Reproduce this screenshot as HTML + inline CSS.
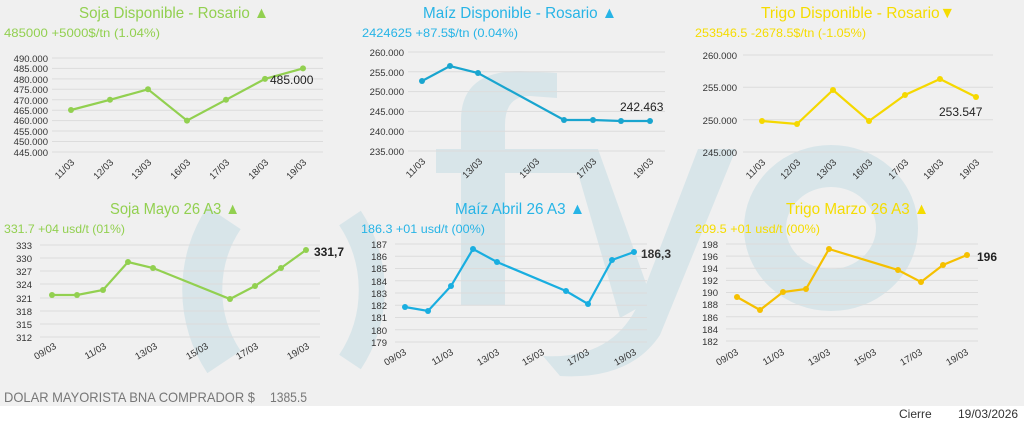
<!DOCTYPE html>
<html><head><meta charset="utf-8"><style>
html,body{margin:0;padding:0;background:#fff}
svg{display:block}
text{font-family:"Liberation Sans",sans-serif}
</style></head><body>
<svg width="1024" height="425" viewBox="0 0 1024 425" xmlns="http://www.w3.org/2000/svg">
<rect x="0" y="0" width="1024" height="406" fill="#f0f0f0"/>
<!-- watermark -->
<g fill="none" stroke="#d8e5e9">
<path d="M224,218 A130,130 0 0 0 224,362" stroke-width="40"/>
<path d="M350,218 A130,130 0 0 1 350,362" stroke-width="26"/>
<ellipse cx="831" cy="228" rx="66" ry="62" stroke-width="42"/>
</g>
<g fill="#d8e5e9">
<path d="M461,305 L461,120 Q461,71 520,71 L557,73 L557,98 L530,96 Q505,96 505,125 L505,305 Z"/>
<rect x="436" y="149" width="162" height="24"/>
<path d="M571,149 L598,149 L652,300 L620,318 Z"/>
<path d="M698,149 L736,149 L660,335 Q630,380 560,376 L543,356 Q615,360 640,300 Z"/>
</g>
<g font-size="10" fill="#333">
<!-- Chart 1 -->
<text x="79" y="18" font-size="16" fill="#92d050" textLength="190" lengthAdjust="spacingAndGlyphs">Soja Disponible - Rosario ▲</text>
<text x="4" y="37" font-size="12" fill="#92d050" textLength="156" lengthAdjust="spacingAndGlyphs">485000 +5000$/tn (1.04%)</text>
<g stroke="#dcdcdc" stroke-width="1">
<line x1="52" x2="323" y1="58" y2="58"/><line x1="52" x2="323" y1="68.4" y2="68.4"/><line x1="52" x2="323" y1="78.9" y2="78.9"/><line x1="52" x2="323" y1="89.3" y2="89.3"/><line x1="52" x2="323" y1="99.8" y2="99.8"/><line x1="52" x2="323" y1="110.2" y2="110.2"/><line x1="52" x2="323" y1="120.6" y2="120.6"/><line x1="52" x2="323" y1="131" y2="131"/><line x1="52" x2="323" y1="141.5" y2="141.5"/><line x1="52" x2="323" y1="152" y2="152"/>
</g>
<g text-anchor="end" font-size="9.5"><text x="48" y="62">490.000</text><text x="48" y="72">485.000</text><text x="48" y="83">480.000</text><text x="48" y="93">475.000</text><text x="48" y="104">470.000</text><text x="48" y="114">465.000</text><text x="48" y="124">460.000</text><text x="48" y="135">455.000</text><text x="48" y="145">450.000</text><text x="48" y="156">445.000</text></g>
<polyline fill="none" stroke="#92d050" stroke-width="2.2" points="71,110 110,99.8 148,89.3 187,120.6 226,99.8 265,78.9 303,68.4"/>
<g fill="#92d050"><circle cx="71" cy="110" r="3"/><circle cx="110" cy="99.8" r="3"/><circle cx="148" cy="89.3" r="3"/><circle cx="187" cy="120.6" r="3"/><circle cx="226" cy="99.8" r="3"/><circle cx="265" cy="78.9" r="3"/><circle cx="303" cy="68.4" r="3"/></g>
<text x="270" y="84" font-size="12" fill="#222">485.000</text>
<g font-size="9.5" text-anchor="end"><text transform="translate(75,163) rotate(-45)">11/03</text><text transform="translate(114,163) rotate(-45)">12/03</text><text transform="translate(152,163) rotate(-45)">13/03</text><text transform="translate(191,163) rotate(-45)">16/03</text><text transform="translate(230,163) rotate(-45)">17/03</text><text transform="translate(269,163) rotate(-45)">18/03</text><text transform="translate(307,163) rotate(-45)">19/03</text></g>

<!-- Chart 2 -->
<text x="423" y="18" font-size="16" fill="#27b4e6" textLength="194" lengthAdjust="spacingAndGlyphs">Maíz Disponible - Rosario ▲</text>
<text x="362" y="37" font-size="12" fill="#27b4e6" textLength="156" lengthAdjust="spacingAndGlyphs">2424625 +87.5$/tn (0.04%)</text>
<g stroke="#dcdcdc"><line x1="408" x2="665" y1="52" y2="52"/><line x1="408" x2="665" y1="71.8" y2="71.8"/><line x1="408" x2="665" y1="91.6" y2="91.6"/><line x1="408" x2="665" y1="111.4" y2="111.4"/><line x1="408" x2="665" y1="131.2" y2="131.2"/><line x1="408" x2="665" y1="151" y2="151"/></g>
<g text-anchor="end" font-size="9.5"><text x="404" y="56">260.000</text><text x="404" y="76">255.000</text><text x="404" y="95">250.000</text><text x="404" y="115">245.000</text><text x="404" y="135">240.000</text><text x="404" y="155">235.000</text></g>
<polyline fill="none" stroke="#19a5cf" stroke-width="2.2" points="422,81 450,66 478,73 564,120 593,120 621,121 650,121"/>
<g fill="#19a5cf"><circle cx="422" cy="81" r="3"/><circle cx="450" cy="66" r="3"/><circle cx="478" cy="73" r="3"/><circle cx="564" cy="120" r="3"/><circle cx="593" cy="120" r="3"/><circle cx="621" cy="121" r="3"/><circle cx="650" cy="121" r="3"/></g>
<text x="620" y="111" font-size="12" fill="#222">242.463</text>
<g font-size="9.5" text-anchor="end"><text transform="translate(426,162) rotate(-45)">11/03</text><text transform="translate(483,162) rotate(-45)">13/03</text><text transform="translate(540,162) rotate(-45)">15/03</text><text transform="translate(597,162) rotate(-45)">17/03</text><text transform="translate(654,162) rotate(-45)">19/03</text></g>

<!-- Chart 3 -->
<text x="761" y="18" font-size="16" fill="#f5dc00" textLength="194" lengthAdjust="spacingAndGlyphs">Trigo Disponible - Rosario▼</text>
<text x="695" y="37" font-size="12" fill="#f5dc00" textLength="171" lengthAdjust="spacingAndGlyphs">253546.5 -2678.5$/tn (-1.05%)</text>
<g stroke="#dcdcdc"><line x1="743" x2="993" y1="55" y2="55"/><line x1="743" x2="993" y1="87.3" y2="87.3"/><line x1="743" x2="993" y1="119.7" y2="119.7"/><line x1="743" x2="993" y1="152" y2="152"/></g>
<g text-anchor="end" font-size="9.5"><text x="737" y="59">260.000</text><text x="737" y="91">255.000</text><text x="737" y="124">250.000</text><text x="737" y="156">245.000</text></g>
<polyline fill="none" stroke="#f5d800" stroke-width="2.2" points="762,121 797,124 833,90 869,121 905,95 940,79 976,97"/>
<g fill="#f5d800"><circle cx="762" cy="121" r="3"/><circle cx="797" cy="124" r="3"/><circle cx="833" cy="90" r="3"/><circle cx="869" cy="121" r="3"/><circle cx="905" cy="95" r="3"/><circle cx="940" cy="79" r="3"/><circle cx="976" cy="97" r="3"/></g>
<text x="939" y="116" font-size="12" fill="#222">253.547</text>
<g font-size="9.5" text-anchor="end"><text transform="translate(766,163) rotate(-45)">11/03</text><text transform="translate(801,163) rotate(-45)">12/03</text><text transform="translate(837,163) rotate(-45)">13/03</text><text transform="translate(873,163) rotate(-45)">16/03</text><text transform="translate(909,163) rotate(-45)">17/03</text><text transform="translate(944,163) rotate(-45)">18/03</text><text transform="translate(980,163) rotate(-45)">19/03</text></g>

<!-- Chart 4 -->
<text x="110" y="214" font-size="16" fill="#92d050" textLength="130" lengthAdjust="spacingAndGlyphs">Soja Mayo 26 A3 ▲</text>
<text x="4" y="233" font-size="12" fill="#92d050" textLength="121" lengthAdjust="spacingAndGlyphs">331.7 +04 usd/t (01%)</text>
<g stroke="#dcdcdc"><line x1="40" x2="320" y1="245" y2="245"/><line x1="40" x2="320" y1="258" y2="258"/><line x1="40" x2="320" y1="271" y2="271"/><line x1="40" x2="320" y1="284" y2="284"/><line x1="40" x2="320" y1="298" y2="298"/><line x1="40" x2="320" y1="311" y2="311"/><line x1="40" x2="320" y1="324" y2="324"/><line x1="40" x2="320" y1="337" y2="337"/></g>
<g text-anchor="end" font-size="9.5"><text x="32" y="249">333</text><text x="32" y="262">330</text><text x="32" y="275">327</text><text x="32" y="288">324</text><text x="32" y="302">321</text><text x="32" y="315">318</text><text x="32" y="328">315</text><text x="32" y="341">312</text></g>
<polyline fill="none" stroke="#92d050" stroke-width="2.2" points="52,295 77,295 103,290 128,262 153,268 230,299 255,286 281,268 306,250"/>
<g fill="#92d050"><circle cx="52" cy="295" r="3"/><circle cx="77" cy="295" r="3"/><circle cx="103" cy="290" r="3"/><circle cx="128" cy="262" r="3"/><circle cx="153" cy="268" r="3"/><circle cx="230" cy="299" r="3"/><circle cx="255" cy="286" r="3"/><circle cx="281" cy="268" r="3"/><circle cx="306" cy="250" r="3"/></g>
<text x="314" y="256" font-size="12" font-weight="bold" fill="#222">331,7</text>
<g font-size="9.5" text-anchor="end"><text transform="translate(57,348) rotate(-30)">09/03</text><text transform="translate(107,348) rotate(-30)">11/03</text><text transform="translate(158,348) rotate(-30)">13/03</text><text transform="translate(209,348) rotate(-30)">15/03</text><text transform="translate(259,348) rotate(-30)">17/03</text><text transform="translate(310,348) rotate(-30)">19/03</text></g>
<text x="4" y="402" font-size="14" fill="#777" textLength="251" lengthAdjust="spacingAndGlyphs">DOLAR MAYORISTA BNA COMPRADOR  $</text>
<text x="270" y="402" font-size="14" fill="#777" textLength="37" lengthAdjust="spacingAndGlyphs">1385.5</text>

<!-- Chart 5 -->
<text x="455" y="214" font-size="16" fill="#27b4e6" textLength="130" lengthAdjust="spacingAndGlyphs">Maíz Abril 26 A3 ▲</text>
<text x="361" y="233" font-size="12" fill="#27b4e6" textLength="124" lengthAdjust="spacingAndGlyphs">186.3 +01 usd/t (00%)</text>
<g stroke="#dcdcdc"><line x1="395" x2="647" y1="244" y2="244"/><line x1="395" x2="647" y1="256.3" y2="256.3"/><line x1="395" x2="647" y1="268.5" y2="268.5"/><line x1="395" x2="647" y1="280.8" y2="280.8"/><line x1="395" x2="647" y1="293" y2="293"/><line x1="395" x2="647" y1="305.3" y2="305.3"/><line x1="395" x2="647" y1="317.5" y2="317.5"/><line x1="395" x2="647" y1="329.8" y2="329.8"/><line x1="395" x2="647" y1="342" y2="342"/></g>
<g text-anchor="end" font-size="9.5"><text x="387" y="248">187</text><text x="387" y="260">186</text><text x="387" y="272">185</text><text x="387" y="285">184</text><text x="387" y="297">183</text><text x="387" y="309">182</text><text x="387" y="321">181</text><text x="387" y="334">180</text><text x="387" y="346">179</text></g>
<polyline fill="none" stroke="#19aee0" stroke-width="2.2" points="405,307 428,311 451,286 473,249 497,262 566,291 588,304 612,260 634,252"/>
<g fill="#19aee0"><circle cx="405" cy="307" r="3"/><circle cx="428" cy="311" r="3"/><circle cx="451" cy="286" r="3"/><circle cx="473" cy="249" r="3"/><circle cx="497" cy="262" r="3"/><circle cx="566" cy="291" r="3"/><circle cx="588" cy="304" r="3"/><circle cx="612" cy="260" r="3"/><circle cx="634" cy="252" r="3"/></g>
<text x="641" y="258" font-size="12" font-weight="bold" fill="#333">186,3</text>
<g font-size="9.5" text-anchor="end"><text transform="translate(407,354) rotate(-30)">09/03</text><text transform="translate(454,354) rotate(-30)">11/03</text><text transform="translate(500,354) rotate(-30)">13/03</text><text transform="translate(545,354) rotate(-30)">15/03</text><text transform="translate(590,354) rotate(-30)">17/03</text><text transform="translate(637,354) rotate(-30)">19/03</text></g>

<!-- Chart 6 -->
<text x="786" y="214" font-size="16" fill="#f5dc00" textLength="143" lengthAdjust="spacingAndGlyphs">Trigo Marzo 26 A3 ▲</text>
<text x="695" y="233" font-size="12" fill="#f5dc00" textLength="125" lengthAdjust="spacingAndGlyphs">209.5 +01 usd/t (00%)</text>
<g stroke="#dcdcdc"><line x1="726" x2="978" y1="244" y2="244"/><line x1="726" x2="978" y1="256.1" y2="256.1"/><line x1="726" x2="978" y1="268.3" y2="268.3"/><line x1="726" x2="978" y1="280.4" y2="280.4"/><line x1="726" x2="978" y1="292.5" y2="292.5"/><line x1="726" x2="978" y1="304.6" y2="304.6"/><line x1="726" x2="978" y1="316.8" y2="316.8"/><line x1="726" x2="978" y1="328.9" y2="328.9"/><line x1="726" x2="978" y1="341" y2="341"/></g>
<g text-anchor="end" font-size="9.5"><text x="718" y="248">198</text><text x="718" y="260">196</text><text x="718" y="272">194</text><text x="718" y="284">192</text><text x="718" y="296">190</text><text x="718" y="308">188</text><text x="718" y="321">186</text><text x="718" y="333">184</text><text x="718" y="345">182</text></g>
<polyline fill="none" stroke="#f5c000" stroke-width="2.2" points="737,297 760,310 783,292 806,289 829,249 898,270 921,282 943,265 967,255"/>
<g fill="#f5c000"><circle cx="737" cy="297" r="3"/><circle cx="760" cy="310" r="3"/><circle cx="783" cy="292" r="3"/><circle cx="806" cy="289" r="3"/><circle cx="829" cy="249" r="3"/><circle cx="898" cy="270" r="3"/><circle cx="921" cy="282" r="3"/><circle cx="943" cy="265" r="3"/><circle cx="967" cy="255" r="3"/></g>
<text x="977" y="261" font-size="12" font-weight="bold" fill="#222">196</text>
<g font-size="9.5" text-anchor="end"><text transform="translate(739,354) rotate(-30)">09/03</text><text transform="translate(785,354) rotate(-30)">11/03</text><text transform="translate(831,354) rotate(-30)">13/03</text><text transform="translate(877,354) rotate(-30)">15/03</text><text transform="translate(923,354) rotate(-30)">17/03</text><text transform="translate(969,354) rotate(-30)">19/03</text></g>

<text x="899" y="418" font-size="12" fill="#333">Cierre</text>
<text x="958" y="418" font-size="12" fill="#333">19/03/2026</text>
</g>
</svg>
</body></html>
